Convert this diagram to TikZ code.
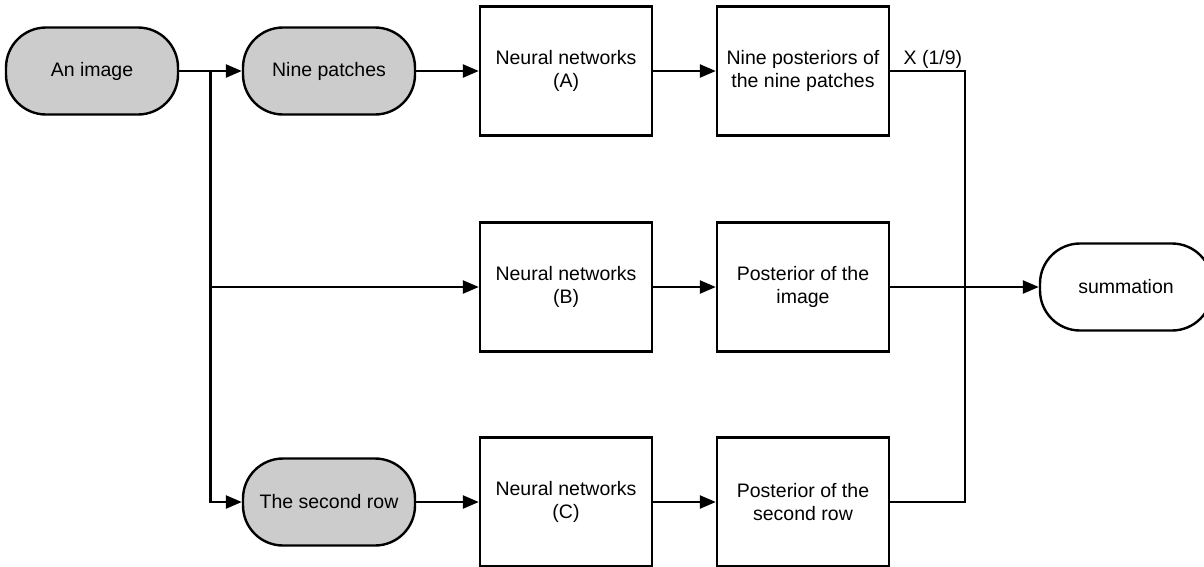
\documentclass[tikz,border=0pt]{standalone}
\usepackage{fontspec}
\setmainfont{Liberation Sans}
\usetikzlibrary{positioning,calc,arrows.meta}
\tikzset{node distance=237pt, auto}
\tikzset{
  pill/.style={draw, fill=gray!40, rectangle, rounded corners=40pt,
    minimum width=172pt, minimum height=87pt},
  endpill/.style={pill, fill=white},
  box/.style={draw, rectangle, align=center, minimum width=172pt, minimum height=129pt}
}

\begin{document}
\begin{tikzpicture}[x=1pt, y=-1pt, line width=2.4pt,
    >={Triangle[length=16pt,width=13pt]},
    font=\fontsize{19.5}{23}\selectfont]
\useasboundingbox (0,0) rectangle (1204,566);

             \node (img) [pill] at (92,71) {An image};
             \node (nine) [pill, right of=img] {Nine patches};
             \node (nnA) [box, right of=nine] {Neural networks\\(A)};
             \node (postA) [box, right of=nnA] {Nine posteriors of\\the nine patches};

             \node (nnB) [box, below of=nnA, node distance=216pt] {Neural networks\\(B)};
             \node (postB) [box, right of=nnB] {Posterior of the\\image};
             \node (sum) [endpill, right of=postB, node distance=323pt] {summation};

             \node (nnC) [box, below of=nnB, node distance=215pt] {Neural networks\\(C)};
             \node (second) [pill, left of=nnC] {The second row};
             \node (postC) [box, right of=nnC] {Posterior of the\\second row};

             \coordinate (fork) at ($(img.east)!.5!(nine.west)$);
             \coordinate (join) at ($(postA.east)+(75pt,0)$);

             \draw [->] (img) to (nine);
             \draw [->] (fork) |- (nnB);
             \draw [->] (fork) |- (second);

             \draw [->] (nine) to (nnA);
             \draw [->] (nnA) to (postA);
             \draw [->] (nnB) to (postB);
             \draw [->] (second) to (nnC);
             \draw [->] (nnC) to (postC);

             \draw (postA) to node [above, pos=0.57, inner sep=1pt] {X (1/9)} (join) |- (postC);
             \draw [->] (postB) to (sum);
          \end{tikzpicture}
\end{document}
